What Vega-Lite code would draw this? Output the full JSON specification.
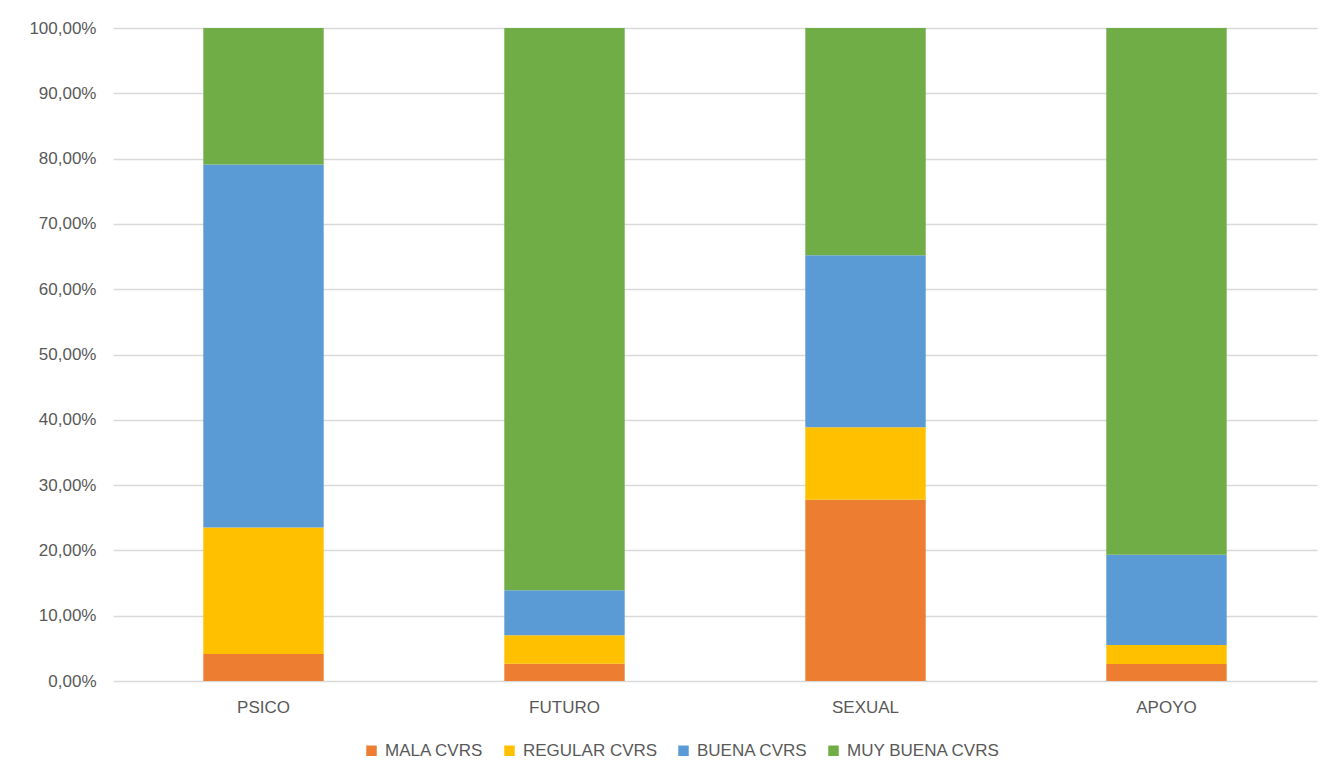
{
  "$schema": "https://vega.github.io/schema/vega-lite/v6.json",
  "autosize": "none",
  "width": 1204,
  "height": 653,
  "padding": {"left": 113, "top": 28, "right": 14, "bottom": 95},
  "background": "white",
  "config": {"view": {"stroke": null}, "font": "Liberation Sans"},
  "data": {
    "values": [
      {"cat": "PSICO", "serie": "MALA CVRS", "orden": 1, "pct": 4.13},
      {"cat": "PSICO", "serie": "REGULAR CVRS", "orden": 2, "pct": 19.37},
      {"cat": "PSICO", "serie": "BUENA CVRS", "orden": 3, "pct": 55.6},
      {"cat": "PSICO", "serie": "MUY BUENA CVRS", "orden": 4, "pct": 20.9},
      {"cat": "FUTURO", "serie": "MALA CVRS", "orden": 1, "pct": 2.65},
      {"cat": "FUTURO", "serie": "REGULAR CVRS", "orden": 2, "pct": 4.35},
      {"cat": "FUTURO", "serie": "BUENA CVRS", "orden": 3, "pct": 6.9},
      {"cat": "FUTURO", "serie": "MUY BUENA CVRS", "orden": 4, "pct": 86.1},
      {"cat": "SEXUAL", "serie": "MALA CVRS", "orden": 1, "pct": 27.77},
      {"cat": "SEXUAL", "serie": "REGULAR CVRS", "orden": 2, "pct": 11.08},
      {"cat": "SEXUAL", "serie": "BUENA CVRS", "orden": 3, "pct": 26.35},
      {"cat": "SEXUAL", "serie": "MUY BUENA CVRS", "orden": 4, "pct": 34.8},
      {"cat": "APOYO", "serie": "MALA CVRS", "orden": 1, "pct": 2.6},
      {"cat": "APOYO", "serie": "REGULAR CVRS", "orden": 2, "pct": 2.9},
      {"cat": "APOYO", "serie": "BUENA CVRS", "orden": 3, "pct": 13.84},
      {"cat": "APOYO", "serie": "MUY BUENA CVRS", "orden": 4, "pct": 80.66}
    ]
  },
  "mark": {"type": "bar"},
  "encoding": {
    "x": {
      "field": "cat",
      "type": "nominal",
      "sort": ["PSICO", "FUTURO", "SEXUAL", "APOYO"],
      "scale": {"paddingInner": 0.6, "paddingOuter": 0.3},
      "axis": {
        "title": null,
        "labelAngle": 0,
        "ticks": false,
        "tickSize": 0,
        "domain": false,
        "labelPadding": 18,
        "labelFontSize": 17,
        "labelColor": "#595959",
        "labelFont": "Liberation Sans"
      }
    },
    "y": {
      "field": "pct",
      "type": "quantitative",
      "stack": "zero",
      "scale": {"domain": [0, 100], "nice": false},
      "axis": {
        "title": null,
        "values": [0, 10, 20, 30, 40, 50, 60, 70, 80, 90, 100],
        "labelExpr": "replace(format(datum.value, '.2f'), '.', ',') + '%'",
        "ticks": false,
        "tickSize": 0,
        "domain": false,
        "grid": true,
        "gridColor": "#D9D9D9",
        "gridWidth": 1.5,
        "labelPadding": 17,
        "labelFontSize": 17,
        "labelColor": "#595959",
        "labelFont": "Liberation Sans"
      }
    },
    "color": {
      "field": "serie",
      "type": "nominal",
      "scale": {
        "domain": ["MALA CVRS", "REGULAR CVRS", "BUENA CVRS", "MUY BUENA CVRS"],
        "range": ["#ED7D31", "#FFC000", "#5B9BD5", "#70AD47"]
      },
      "legend": {
        "title": null,
        "orient": "none",
        "direction": "horizontal",
        "legendX": 250,
        "legendY": 714,
        "symbolType": "square",
        "symbolSize": 110,
        "symbolStrokeWidth": 0,
        "labelFontSize": 17,
        "labelColor": "#595959",
        "labelFont": "Liberation Sans",
        "labelOffset": 5,
        "columnPadding": 17
      }
    },
    "order": {"field": "orden", "type": "quantitative"}
  }
}
